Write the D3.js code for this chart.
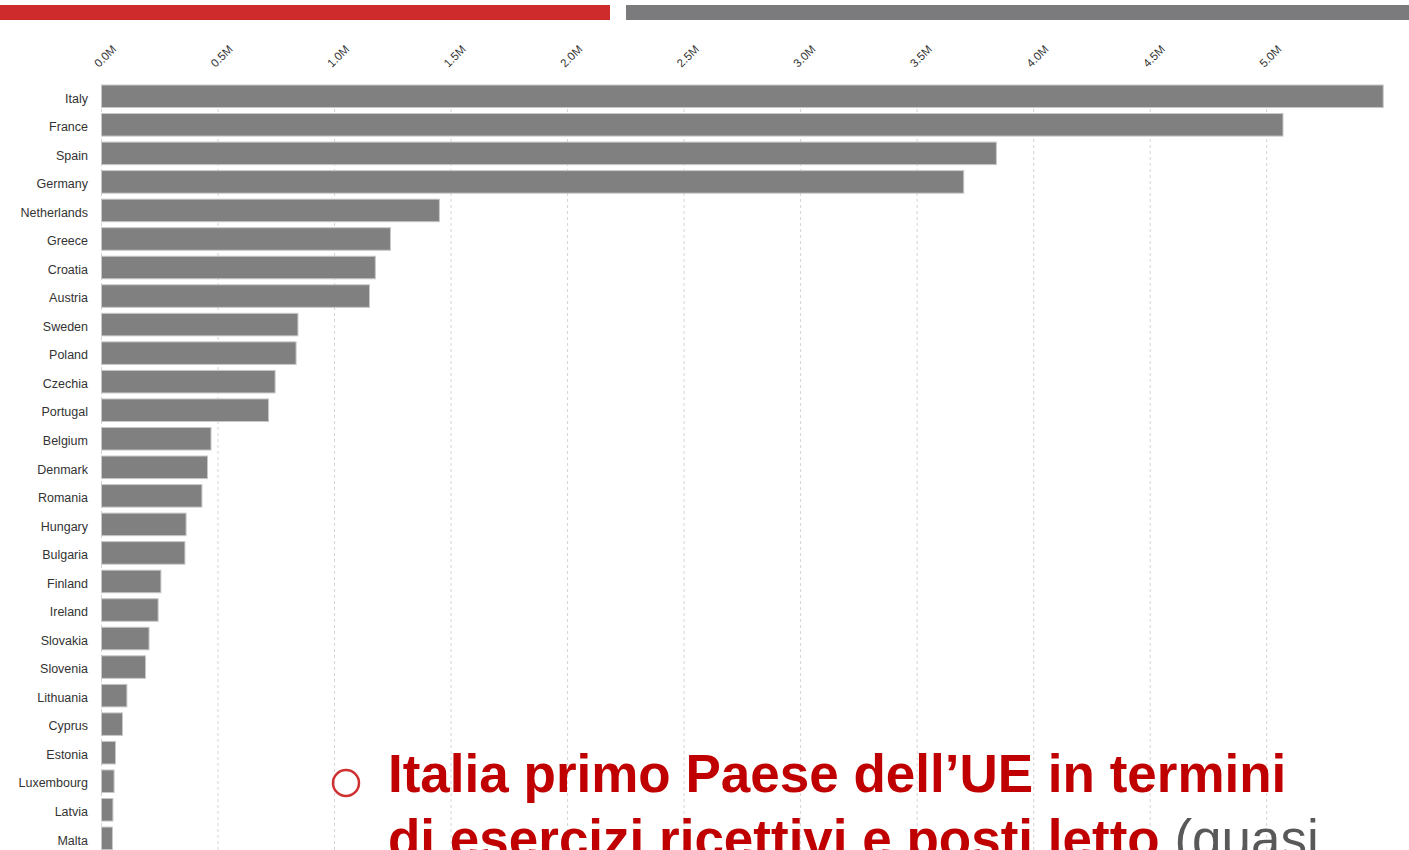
<!DOCTYPE html>
<html>
<head>
<meta charset="utf-8">
<script src="https://cdn.jsdelivr.net/npm/d3@7"></script>
<style>
  body { margin: 0; background: #fff; }
  svg { display: block; }
</style>
</head>
<body>
<div id="chart"></div>
<script>
// countries, sorted as in the picture
var countries = ['Italy','France','Spain','Germany','Netherlands','Greece','Croatia','Austria',
  'Sweden','Poland','Czechia','Portugal','Belgium','Denmark','Romania','Hungary','Bulgaria',
  'Finland','Ireland','Slovakia','Slovenia','Lithuania','Cyprus','Estonia','Luxembourg','Latvia','Malta'];
// bed places
var beds = [5500000,5070000,3840000,3700000,1450000,1240000,1175000,1150000,
  843000,835000,745000,717000,470000,455000,431000,363000,358000,
  255000,243000,204000,189000,109000,90000,60000,54000,49000,47000];
var tickValues = [0,500000,1000000,1500000,2000000,2500000,3000000,3500000,4000000,4500000,5000000];

var W = 1409, H = 850;
var chart = { left: 101.5, right: 1266.7, top: 82.15, bottom: 852.45 };

var svg = d3.select('#chart').append('svg')
    .attr('width', W)
    .attr('height', H);

// header stripes
svg.append('rect').attr('x', 0).attr('y', 5).attr('width', 610).attr('height', 15).attr('fill', '#cd2b2c');
svg.append('rect').attr('x', 626).attr('y', 5).attr('width', W - 626).attr('height', 15).attr('fill', '#7b7b7d');

var x = d3.scaleLinear().domain([0, 5000000]).range([chart.left, chart.right]);
var y = d3.scaleBand().domain(countries).range([chart.top, chart.bottom])
    .paddingInner(0.21).paddingOuter(0.1);

var data = countries.map(function(c, i) { return { country: c, value: beds[i] }; });

// grid
svg.append('g').attr('class', 'grid')
  .selectAll('line')
  .data(tickValues)
  .enter().append('line')
    .attr('x1', function(d) { return x(d); })
    .attr('x2', function(d) { return x(d); })
    .attr('y1', y(countries[0]))
    .attr('y2', H)
    .attr('stroke', '#d4d4d4')
    .attr('stroke-width', 1)
    .attr('stroke-dasharray', '3,3');

// top axis, rotated labels
var xAxis = d3.axisTop(x)
    .tickValues(tickValues)
    .tickSize(0)
    .tickFormat(function(d) { return (d / 1e6).toFixed(1) + 'M'; });

var gx = svg.append('g')
    .attr('transform', 'translate(0,68)')
    .call(xAxis);
gx.select('.domain').remove();
gx.selectAll('text')
    .attr('x', 0).attr('y', 0).attr('dy', 0)
    .attr('text-anchor', 'start')
    .attr('transform', 'translate(-3,0) rotate(-45)')
    .style('font', '11.5px "Liberation Sans", Arial, sans-serif')
    .attr('fill', '#333');

// bars
svg.append('g').selectAll('rect')
  .data(data)
  .enter().append('rect')
    .attr('x', x(0))
    .attr('y', function(d) { return y(d.country); })
    .attr('width', function(d) { return x(d.value) - x(0); })
    .attr('height', y.bandwidth())
    .attr('fill', '#808080')
    .attr('stroke', '#c8c8c8')
    .attr('stroke-width', 1);

// country labels
svg.append('g').selectAll('text')
  .data(data)
  .enter().append('text')
    .attr('x', 88)
    .attr('y', function(d) { return y(d.country) + y.bandwidth() / 2; })
    .attr('dy', '0.5em')
    .attr('text-anchor', 'end')
    .attr('fill', '#333')
    .style('font', '12.5px "Liberation Sans", Arial, sans-serif')
    .text(function(d) { return d.country; });

// overlaid slide text
svg.append('circle')
    .attr('cx', 346).attr('cy', 783).attr('r', 13)
    .attr('fill', 'none')
    .attr('stroke', '#cf3030')
    .attr('stroke-width', 2.5);

var note = svg.append('g').style('font', 'bold 53px "Liberation Sans", Arial, sans-serif');
note.append('text')
    .attr('x', 388).attr('y', 792)
    .attr('fill', '#c00000')
    .text('Italia primo Paese dell\u2019UE in termini');
var line2 = note.append('text')
    .attr('x', 388).attr('y', 857)
    .attr('fill', '#c00000');
line2.append('tspan').text('di esercizi ricettivi e posti letto');
line2.append('tspan')
    .attr('fill', '#595959')
    .style('font-weight', 'normal')
    .text(' (quasi');
</script>
</body>
</html>
